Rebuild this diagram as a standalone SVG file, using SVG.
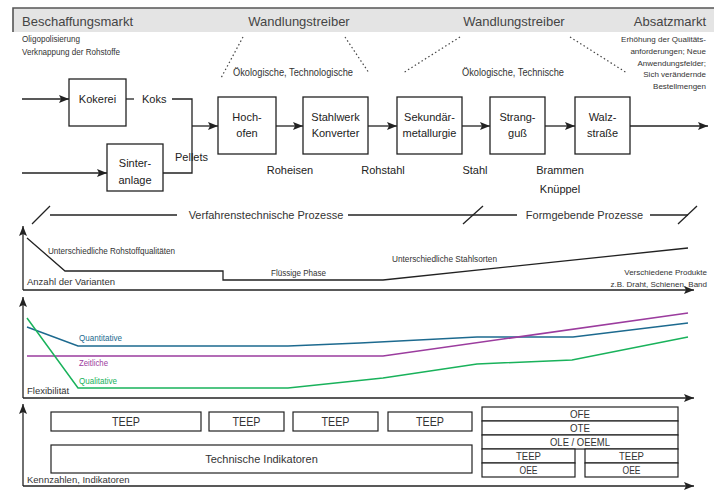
<svg xmlns="http://www.w3.org/2000/svg" width="721" height="494" viewBox="0 0 721 494">
<style>
text{font-family:"Liberation Sans",Arial,sans-serif;fill:#333}
.hd{font-size:13px;fill:#444}
.sm{font-size:9px}
.rb{font-size:8px;text-anchor:end}
.fl{font-size:11px;fill:#222}
.ax{font-size:9.5px;fill:#333}
.box{fill:#fff;stroke:#222;stroke-width:1.3}
.ln{fill:none;stroke:#222;stroke-width:1.3}
.arr{fill:none;stroke:#222;stroke-width:1.3;marker-end:url(#ah)}
.dot{fill:none;stroke:#444;stroke-width:1.2;stroke-dasharray:1.5 2.5}
.kb{fill:#fff;stroke:#222;stroke-width:1.2}
.c{text-anchor:middle}
.e{text-anchor:end}
</style>
<defs>
<marker id="ah" markerUnits="userSpaceOnUse" markerWidth="11" markerHeight="8" refX="10" refY="4" orient="auto">
<path d="M0,0 L10,4 L0,8 L2,4 z" fill="#222"/>
</marker>
</defs>
<rect width="721" height="494" fill="#fff"/>

<g id="header">
<rect x="13" y="8" width="701" height="24" fill="#e4e4e4"/>
<polyline points="13,32 13,8 714,8" fill="none" stroke="#555" stroke-width="1.6"/>
<text class="hd" x="22" y="26">Beschaffungsmarkt</text>
<text class="hd c" x="299" y="26">Wandlungstreiber</text>
<text class="hd c" x="514" y="26">Wandlungstreiber</text>
<text class="hd e" x="706" y="26">Absatzmarkt</text>
</g>

<g id="drivers">
<text class="sm" x="22" y="42" textLength="58" lengthAdjust="spacingAndGlyphs">Oligopolisierung</text>
<text class="sm" x="22" y="55" textLength="98" lengthAdjust="spacingAndGlyphs">Verknappung der Rohstoffe</text>
<line class="dot" x1="243" y1="37" x2="221" y2="78"/>
<line class="dot" x1="345" y1="37" x2="369" y2="73"/>
<line class="dot" x1="460" y1="37" x2="403" y2="73"/>
<line class="dot" x1="570" y1="37" x2="627" y2="73"/>
<text class="c" x="293" y="76" style="font-size:10px" textLength="120" lengthAdjust="spacingAndGlyphs">Ökologische, Technologische</text>
<text class="c" x="513" y="76" style="font-size:10px" textLength="102" lengthAdjust="spacingAndGlyphs">Ökologische, Technische</text>
<text class="rb" x="706" y="42">Erhöhung der Qualitäts-</text>
<text class="rb" x="706" y="54">anforderungen; Neue</text>
<text class="rb" x="706" y="66">Anwendungsfelder;</text>
<text class="rb" x="706" y="77">Sich verändernde</text>
<text class="rb" x="706" y="89">Bestellmengen</text>
</g>

<g id="connectors">
<line class="arr" x1="22" y1="99" x2="69" y2="99"/>
<line class="arr" x1="22" y1="173" x2="107" y2="173"/>
<line class="ln" x1="126" y1="99" x2="134" y2="99"/>
<polyline class="ln" points="172,99 192,99 192,173 163,173"/>
<line class="arr" x1="192" y1="126" x2="218" y2="126"/>
<line class="arr" x1="276" y1="126" x2="303" y2="126"/>
<line class="arr" x1="368" y1="126" x2="397" y2="126"/>
<line class="arr" x1="462" y1="126" x2="490" y2="126"/>
<line class="arr" x1="545" y1="126" x2="575" y2="126"/>
<line class="arr" x1="630" y1="126" x2="708" y2="126"/>
</g>

<g id="kokerei">
<rect class="box" x="69" y="79" width="57" height="47"/>
<text class="fl c" x="97.5" y="103">Kokerei</text>
</g>
<g id="sinteranlage">
<rect class="box" x="107" y="144" width="56" height="47"/>
<text class="fl c" x="135" y="167">Sinter-</text>
<text class="fl c" x="135" y="184">anlage</text>
</g>
<g id="hochofen">
<rect class="box" x="218" y="97" width="58" height="57"/>
<text class="fl c" x="247" y="121">Hoch-</text>
<text class="fl c" x="247" y="137">ofen</text>
</g>
<g id="stahlwerk">
<rect class="box" x="303" y="97" width="65" height="57"/>
<text class="fl c" x="335.5" y="121">Stahlwerk</text>
<text class="fl c" x="335.5" y="137">Konverter</text>
</g>
<g id="sekundaermetallurgie">
<rect class="box" x="397" y="97" width="65" height="57"/>
<text class="fl c" x="429.5" y="121">Sekundär-</text>
<text class="fl c" x="429.5" y="137">metallurgie</text>
</g>
<g id="stranggusss">
<rect class="box" x="490" y="97" width="55" height="57"/>
<text class="fl c" x="517.5" y="121">Strang-</text>
<text class="fl c" x="517.5" y="137">guß</text>
</g>
<g id="walzstrasse">
<rect class="box" x="575" y="97" width="55" height="57"/>
<text class="fl c" x="602.5" y="121">Walz-</text>
<text class="fl c" x="602.5" y="137">straße</text>
</g>

<g id="flow-labels">
<text class="fl" x="142" y="103">Koks</text>
<text class="fl" x="175" y="161">Pellets</text>
<text class="fl c" x="290" y="174">Roheisen</text>
<text class="fl c" x="383" y="174">Rohstahl</text>
<text class="fl c" x="475" y="174">Stahl</text>
<text class="fl c" x="560" y="174">Brammen</text>
<text class="fl c" x="560" y="193">Knüppel</text>
</g>

<g id="prozesse">
<line class="ln" x1="32" y1="224" x2="50" y2="206"/>
<line class="ln" x1="50" y1="215" x2="177" y2="215"/>
<text class="c" x="266" y="219" style="font-size:11px;fill:#333">Verfahrenstechnische Prozesse</text>
<line class="ln" x1="348" y1="215" x2="517" y2="215"/>
<line class="ln" x1="463" y1="224" x2="483" y2="206"/>
<text class="c" x="584.5" y="219" style="font-size:11px;fill:#333">Formgebende Prozesse</text>
<line class="ln" x1="650" y1="215" x2="688" y2="215"/>
<line class="ln" x1="678" y1="224" x2="697" y2="206"/>
</g>

<g id="varianten">
<line class="arr" x1="23" y1="290" x2="23" y2="226"/>
<line class="arr" x1="23" y1="290" x2="694" y2="290"/>
<polyline class="ln" points="27,238 65,271 223,271 223,280 383,280 688,248"/>
<text class="sm" x="48" y="254" textLength="127" lengthAdjust="spacingAndGlyphs">Unterschiedliche Rohstoffqualitäten</text>
<text class="sm" x="271" y="276" textLength="55" lengthAdjust="spacingAndGlyphs">Flüssige Phase</text>
<text class="ax" x="27" y="285">Anzahl der Varianten</text>
<text class="sm" x="392" y="262" textLength="105" lengthAdjust="spacingAndGlyphs">Unterschiedliche Stahlsorten</text>
<text class="rb" x="707" y="275">Verschiedene Produkte</text>
<text class="rb" x="707" y="287">z.B. Draht, Schienen, Band</text>
</g>

<g id="flexibilitaet">
<line class="arr" x1="23" y1="398" x2="23" y2="297"/>
<line class="arr" x1="23" y1="398" x2="694" y2="398"/>
<polyline fill="none" stroke="#1d6a8f" stroke-width="1.5" points="27,327 78,346 288,346 360,343 477,337 573,337 688,323"/>
<polyline fill="none" stroke="#9b3c9e" stroke-width="1.5" points="27,356 383,356 688,313"/>
<polyline fill="none" stroke="#19b25b" stroke-width="1.5" points="27,318 78,388 288,388 383,378 477,364 572,360 688,337"/>
<text class="sm" x="79" y="341" style="fill:#1d6a8f" textLength="43" lengthAdjust="spacingAndGlyphs">Quantitative</text>
<text class="sm" x="79" y="366" style="fill:#9b3c9e" textLength="29" lengthAdjust="spacingAndGlyphs">Zeitliche</text>
<text class="sm" x="79" y="384" style="fill:#19b25b" textLength="38" lengthAdjust="spacingAndGlyphs">Qualitative</text>
<text class="ax" x="27" y="394">Flexibilität</text>
</g>

<g id="kennzahlen">
<line class="arr" x1="23" y1="486" x2="23" y2="404"/>
<line class="arr" x1="23" y1="486" x2="694" y2="486"/>
<text class="ax" x="27" y="483">Kennzahlen, Indikatoren</text>
</g>
<g id="teep1"><rect class="kb" x="51" y="412" width="150" height="19"/><text class="c" x="126" y="426" style="font-size:12px" textLength="28" lengthAdjust="spacingAndGlyphs">TEEP</text></g>
<g id="teep2"><rect class="kb" x="209" y="412" width="75" height="19"/><text class="c" x="246.5" y="426" style="font-size:12px" textLength="28" lengthAdjust="spacingAndGlyphs">TEEP</text></g>
<g id="teep3"><rect class="kb" x="293" y="412" width="85" height="19"/><text class="c" x="335.5" y="426" style="font-size:12px" textLength="28" lengthAdjust="spacingAndGlyphs">TEEP</text></g>
<g id="teep4"><rect class="kb" x="388" y="412" width="84" height="19"/><text class="c" x="430" y="426" style="font-size:12px" textLength="28" lengthAdjust="spacingAndGlyphs">TEEP</text></g>
<g id="technische-indikatoren"><rect class="kb" x="51" y="445" width="421" height="28"/><text class="c" x="261.5" y="463" style="font-size:11px">Technische Indikatoren</text></g>
<g id="ofe"><rect class="kb" x="482" y="407" width="196" height="14"/><text class="c" x="580" y="418" style="font-size:10.5px" textLength="20" lengthAdjust="spacingAndGlyphs">OFE</text></g>
<g id="ote"><rect class="kb" x="482" y="421" width="196" height="14"/><text class="c" x="580" y="432" style="font-size:10.5px" textLength="20" lengthAdjust="spacingAndGlyphs">OTE</text></g>
<g id="ole"><rect class="kb" x="482" y="435" width="196" height="14"/><text class="c" x="580" y="446" style="font-size:10.5px" textLength="60" lengthAdjust="spacingAndGlyphs">OLE / OEEML</text></g>
<g id="teep5"><rect class="kb" x="482" y="449" width="93" height="14"/><text class="c" x="528.5" y="460" style="font-size:10.5px" textLength="25" lengthAdjust="spacingAndGlyphs">TEEP</text></g>
<g id="oee1"><rect class="kb" x="482" y="463" width="93" height="14"/><text class="c" x="528.5" y="474" style="font-size:10.5px" textLength="18" lengthAdjust="spacingAndGlyphs">OEE</text></g>
<g id="teep6"><rect class="kb" x="585" y="449" width="93" height="14"/><text class="c" x="631.5" y="460" style="font-size:10.5px" textLength="25" lengthAdjust="spacingAndGlyphs">TEEP</text></g>
<g id="oee2"><rect class="kb" x="585" y="463" width="93" height="14"/><text class="c" x="631.5" y="474" style="font-size:10.5px" textLength="18" lengthAdjust="spacingAndGlyphs">OEE</text></g>
</svg>
